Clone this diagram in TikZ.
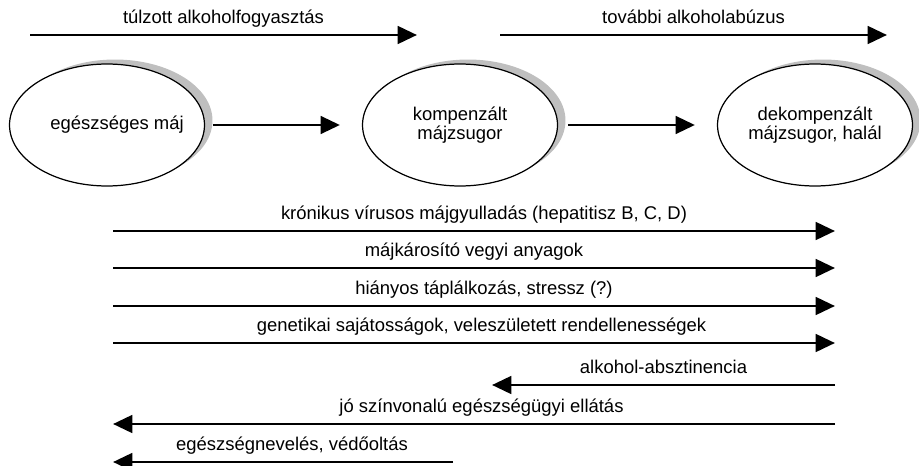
\documentclass[tikz,border=0pt]{standalone}
\usepackage{fontspec}
\setmainfont{Liberation Sans}
\usetikzlibrary{arrows.meta, shapes.geometric, shadows}
\tikzset{
	stagenode/.style={
			ellipse,
			draw=black,
			line width=0.7pt,
			fill=white,
			minimum width=3.9cm,
			minimum height=2.44cm,
			inner sep=0pt,
			align=center,
			general shadow={fill=black!25, shadow xshift=0.16cm, shadow yshift=0.09cm}
		},
	factorarrow/.style={
			line width=1.7pt,
			-{Triangle[length=11pt,width=10pt]}
		},
	factorlabel/.style={
			above,
			inner xsep=0pt,
			inner ysep=3.5pt,
			text depth=2.3pt
		}
}
\begin{document}
\begin{tikzpicture}[x=0.02cm, y=-0.02cm, font=\fontsize{10.5}{10.7}\selectfont]
\useasboundingbox (0,0) rectangle (919,466);

\node[stagenode] (s1) at (107,125) {\makebox[0pt]{\hspace*{0.4cm}egészséges máj}};
\node[stagenode] (s2) at (460,125) {kompenzált\\májzsugor};
\node[stagenode] (s3) at (815,125) {dekompenzált\\májzsugor, halál};

\draw[factorarrow, shorten <=0.16cm, shorten >=0.44cm] (s1) -- (s2);
\draw[factorarrow, shorten <=0.2cm, shorten >=0.44cm] (s2) -- (s3);

\coordinate (a1) at (30,35);
\coordinate (a2) at (417,35);
\coordinate (b1) at (500,35);
\coordinate (b2) at (887,35);
\draw[factorarrow] (a1) -- node[factorlabel] (la) {túlzott alkoholfogyasztás} (a2);
\draw[factorarrow] (b1) -- node[factorlabel] (lb) {további alkoholabúzus} (b2);

\coordinate (k1) at (113,231);
\coordinate (k2) at (835,231);
\coordinate (m1) at (113,268);
\coordinate (m2) at (835,268);
\coordinate (h1) at (113,306);
\coordinate (h2) at (835,306);
\coordinate (g1) at (113,343);
\coordinate (g2) at (835,343);
\draw[factorarrow] (k1) -- node[factorlabel, xshift=0.2cm] (lk) {krónikus vírusos májgyulladás (hepatitisz B, C, D)} (k2);
\draw[factorarrow] (m1) -- node[factorlabel] (lm) {májkárosító vegyi anyagok} (m2);
\draw[factorarrow] (h1) -- node[factorlabel, xshift=0.2cm] (lh) {hiányos táplálkozás, stressz (?)} (h2);
\draw[factorarrow] (g1) -- node[factorlabel, xshift=0.15cm] (lg) {genetikai sajátosságok, veleszületett rendellenességek} (g2);

\coordinate (v1) at (835,385);
\coordinate (v2) at (492,385);
\coordinate (e1) at (835,424);
\coordinate (e2) at (113,424);
\coordinate (n1) at (453,462);
\coordinate (n2) at (113,462);
\draw[factorarrow] (v1) -- node[factorlabel] (lv) {alkohol-absztinencia} (v2);
\draw[factorarrow] (e1) -- node[factorlabel, xshift=0.15cm] (le) {jó színvonalú egészségügyi ellátás} (e2);
\draw[factorarrow] (n1) -- node[factorlabel, xshift=0.18cm] (ln) {egészségnevelés, védőoltás} (n2);
\end{tikzpicture}
\end{document}
